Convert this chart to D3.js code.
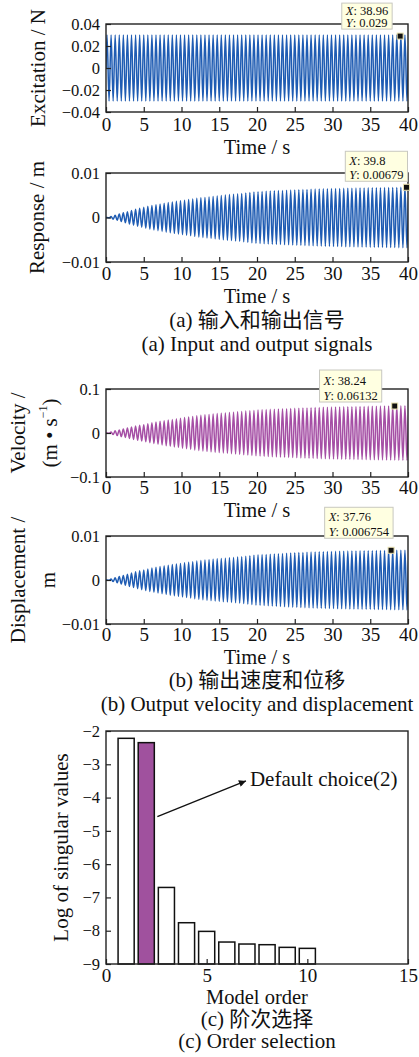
<!DOCTYPE html>
<html>
<head>
<meta charset="utf-8">
<script src="https://cdn.jsdelivr.net/npm/d3@7"></script>
<style>
body { margin: 0; background: #fff; }
text { font-family: "Liberation Serif", "Times New Roman", "Noto Sans CJK SC", serif; fill: #111; }
</style>
</head>
<body>
<script>
// values
// the time signals are steady sine waves: kept as their envelope (amplitude vs time) plus the carrier rate
var envTime = [0, 0.5, 1, 2, 3, 4, 5, 6, 8, 10, 12, 14, 16, 18, 20, 22, 25, 28, 30, 33, 36, 40];
var excitationEnv = [0.03, 0.03, 0.03, 0.03, 0.03, 0.03, 0.03, 0.03, 0.03, 0.03, 0.03, 0.03, 0.03, 0.03, 0.03, 0.03, 0.03, 0.03, 0.03, 0.03, 0.03, 0.03];
var responseEnv = [0, 0.0001, 0.0004, 0.0009, 0.0014, 0.0019, 0.0023, 0.0027, 0.0033, 0.0038, 0.0043, 0.0047, 0.0051, 0.0054, 0.0058, 0.006, 0.0062, 0.0064, 0.0065, 0.0066, 0.0067, 0.0068];
var velocityEnv = [0, 0.001, 0.004, 0.008, 0.012, 0.016, 0.019, 0.023, 0.029, 0.034, 0.039, 0.043, 0.046, 0.049, 0.052, 0.054, 0.056, 0.058, 0.059, 0.06, 0.061, 0.062];
var displacementEnv = [0, 0.0001, 0.0004, 0.0009, 0.0014, 0.0019, 0.0023, 0.0027, 0.0033, 0.0038, 0.0043, 0.0047, 0.005, 0.0053, 0.0057, 0.0059, 0.0062, 0.0064, 0.0065, 0.0066, 0.0067, 0.0068];
var cyclesPerSecond = 1.85;

var timeTicks = [0, 5, 10, 15, 20, 25, 30, 35, 40];
var tipX = [38.96, 39.8, 38.24, 37.76];
var tipY = [0.029, 0.00679, 0.06132, 0.006754];
var tipXText = ["38.96", "39.8", "38.24", "37.76"];
var tipYText = ["0.029", "0.00679", "0.06132", "0.006754"];

var orders = [1, 2, 3, 4, 5, 6, 7, 8, 9, 10];
var logSingular = [-2.22, -2.35, -6.70, -7.76, -8.02, -8.34, -8.40, -8.42, -8.50, -8.53];
var defaultOrder = 2;
var orderTicks = [0, 5, 10, 15];
var logTicks = [-9, -8, -7, -6, -5, -4, -3, -2];

var blue = "#1f5cb3";
var purple = "#a54fa5";
var barPurple = "#a0519e";

var W = 419, H = 1057;
var left = 106, right = 408;
var serif = "Liberation Serif, Times New Roman, serif";

var svg = d3.select("body").append("svg").attr("width", W).attr("height", H);

var fmt = function (d) { return d === 0 ? "0" : d3.format("")(d); };

var panels = [
	{ top: 24, bottom: 112, domain: [-0.04, 0.04], ticks: [-0.04, -0.02, 0, 0.02, 0.04], env: excitationEnv, color: blue,
		label: [["Excitation / N", 38]], tick: 131, title: 153.5, tipDx: -8, tipDy: -7, tipH: 26 },
	{ top: 173, bottom: 262, domain: [-0.01, 0.01], ticks: [-0.01, 0, 0.01], env: responseEnv, color: blue,
		label: [["Response / m", 37]], tick: 280, title: 302.5, tipDx: 1, tipDy: -6, tipH: 30 },
	{ top: 389, bottom: 477, domain: [-0.1, 0.1], ticks: [-0.1, 0, 0.1], env: velocityEnv, color: purple,
		label: [["Velocity /", 18], ["(m • s", 50]], tick: 494, title: 516.5, tipDx: -13, tipDy: -4, tipH: 32 },
	{ top: 536, bottom: 624, domain: [-0.01, 0.01], ticks: [-0.01, 0, 0.01], env: displacementEnv, color: blue,
		label: [["Displacement /", 18], ["m", 48]], tick: 641, title: 663.5, tipDx: 2, tipDy: -12, tipH: 31 }
];

var captions = [
	["(a) 输入和输出信号", 327], ["(a) Input and output signals", 351],
	["(b) 输出速度和位移", 687], ["(b) Output velocity and displacement", 711],
	["(c) 阶次选择", 1026], ["(c) Order selection", 1048]
];

var x = d3.scaleLinear().domain([0, 40]).range([left, right]);

function wave(env) {
	var amp = d3.scaleLinear().domain(envTime).range(env).clamp(true);
	var half = 0.5 / cyclesPerSecond;
	var pts = [[0, 0]];
	var k = 0;
	for (var t = half / 2; t < 41; t += half, k++) {
		pts.push([t, (k % 2 ? -1 : 1) * amp(t)]);
	}
	return pts;
}

function styleAxes(g) {
	g.selectAll(".domain").remove();
	g.selectAll(".tick line").attr("stroke", "#222").attr("stroke-width", 1.2);
	g.selectAll(".tick text").attr("fill", "#111").style("font-family", serif);
}

panels.forEach(function (p, i) {
	var y = d3.scaleLinear().domain(p.domain).range([p.bottom, p.top]);
	var g = svg.append("g");

	g.append("clipPath").attr("id", "clip" + i)
		.append("rect").attr("x", left).attr("y", p.top).attr("width", right - left).attr("height", p.bottom - p.top);

	g.append("path")
		.datum(wave(p.env))
		.attr("clip-path", "url(#clip" + i + ")")
		.attr("fill", "none")
		.attr("stroke", p.color)
		.attr("stroke-width", 1.5)
		.attr("d", d3.line().x(function (d) { return x(d[0]); }).y(function (d) { return y(d[1]); }).curve(d3.curveMonotoneX));

	// axes, ticks pointing inward
	var ax = g.append("g").attr("transform", "translate(0," + p.bottom + ")").attr("font-family", serif)
		.call(d3.axisBottom(x).tickValues(timeTicks).tickSizeInner(-5).tickSizeOuter(0).tickPadding(0));
	ax.selectAll("text").attr("y", p.tick - p.bottom).attr("dy", null).style("font-size", "19px");
	var ay = g.append("g").attr("transform", "translate(" + left + ",0)").attr("font-family", serif)
		.call(d3.axisLeft(y).tickValues(p.ticks).tickFormat(fmt).tickSizeInner(-5).tickSizeOuter(0).tickPadding(6));
	ay.selectAll("text").style("font-size", "16.5px");
	styleAxes(g);

	g.append("rect").attr("x", left).attr("y", p.top).attr("width", right - left).attr("height", p.bottom - p.top)
		.attr("fill", "none").attr("stroke", "#222").attr("stroke-width", 1.4);

	g.append("text").attr("x", (left + right) / 2).attr("y", p.title).attr("text-anchor", "middle")
		.style("font-size", "20.5px").text("Time / s");

	var cy = (p.top + p.bottom) / 2;
	p.label.forEach(function (l, j) {
		var t = g.append("text")
			.attr("transform", "translate(" + l[1] + "," + cy + ") rotate(-90)")
			.attr("text-anchor", "middle").attr("dominant-baseline", "central")
			.style("font-size", "21px").text(l[0]);
		if (i === 2 && j === 1) {
			t.append("tspan").attr("baseline-shift", "super").style("font-size", "12px").text("−1");
			t.append("tspan").text(")");
		}
	});

	// data tip: box, two text lines, marker
	var mx = x(tipX[i]), my = y(tipY[i]);
	var tip = g.append("g");
	var box = tip.append("rect").attr("fill", "#ffffe1").attr("stroke", "#c8c8c0").attr("stroke-width", 1);
	var t1 = tip.append("text").style("font-size", "12.5px");
	t1.append("tspan").style("font-style", "italic").text("X");
	t1.append("tspan").text(": " + tipXText[i]);
	var t2 = tip.append("text").style("font-size", "12.5px");
	t2.append("tspan").style("font-style", "italic").text("Y");
	t2.append("tspan").text(": " + tipYText[i]);
	var tw = Math.max(t1.node().getComputedTextLength(), t2.node().getComputedTextLength());
	var bx = mx + p.tipDx - tw - 8, bBot = my + p.tipDy, bTopY = bBot - p.tipH;
	box.attr("x", bx).attr("y", bTopY).attr("width", tw + 8).attr("height", p.tipH);
	var lineGap = p.tipH / 2;
	t1.attr("x", bx + 4).attr("y", bTopY + lineGap - 1.5);
	t2.attr("x", bx + 4).attr("y", bTopY + 2 * lineGap - 2.5);
	g.append("rect").attr("x", mx - 3).attr("y", my - 3).attr("width", 6).attr("height", 6)
		.attr("fill", "#111").attr("stroke", "#e8e0b0").attr("stroke-width", 1);
});

// order selection bar chart
var bTop = 731, bBottom = 964;
var xb = d3.scaleLinear().domain([0, 15]).range([left, right]);
var yb = d3.scaleLinear().domain([-9, -2]).range([bBottom, bTop]);
var gb = svg.append("g");
var barW = xb(0.8) - xb(0);

gb.selectAll("rect.bar").data(orders).join("rect").attr("class", "bar")
	.attr("x", function (d) { return xb(d) - barW / 2; })
	.attr("y", function (d, i) { return yb(logSingular[i]); })
	.attr("width", barW)
	.attr("height", function (d, i) { return yb(-9) - yb(logSingular[i]); })
	.attr("fill", function (d) { return d === defaultOrder ? barPurple : "#fff"; })
	.attr("stroke", "#111").attr("stroke-width", 1.5);

var axb = gb.append("g").attr("transform", "translate(0," + bBottom + ")").attr("font-family", serif)
	.call(d3.axisBottom(xb).tickValues(orderTicks).tickSizeInner(-5).tickSizeOuter(0).tickPadding(0));
axb.selectAll("text").attr("y", 982 - bBottom).attr("dy", null).style("font-size", "19px");
var ayb = gb.append("g").attr("transform", "translate(" + left + ",0)").attr("font-family", serif)
	.call(d3.axisLeft(yb).tickValues(logTicks).tickFormat(fmt).tickSizeInner(-5).tickSizeOuter(0).tickPadding(6));
ayb.selectAll("text").style("font-size", "16.5px");
styleAxes(gb);

gb.append("rect").attr("x", left).attr("y", bTop).attr("width", right - left).attr("height", bBottom - bTop)
	.attr("fill", "none").attr("stroke", "#222").attr("stroke-width", 1.4);

svg.append("defs").append("marker").attr("id", "head")
	.attr("viewBox", "0 0 10 10").attr("refX", 10).attr("refY", 5)
	.attr("markerWidth", 12).attr("markerHeight", 7).attr("markerUnits", "userSpaceOnUse").attr("orient", "auto")
	.append("path").attr("d", "M0,0L10,5L0,10z").attr("fill", "#111");

var arrowFrom = [2.55, -4.57], arrowTo = [6.95, -3.5];
gb.append("line")
	.attr("x1", xb(arrowFrom[0])).attr("y1", yb(arrowFrom[1]))
	.attr("x2", xb(arrowTo[0])).attr("y2", yb(arrowTo[1]))
	.attr("stroke", "#111").attr("stroke-width", 1.3).attr("marker-end", "url(#head)");
gb.append("text").attr("x", xb(7.15)).attr("y", yb(-3.66)).style("font-size", "21px").text("Default choice(2)");

gb.append("text").attr("x", (left + right) / 2).attr("y", 1004).attr("text-anchor", "middle")
	.style("font-size", "20.5px").text("Model order");
gb.append("text")
	.attr("transform", "translate(61," + (bTop + bBottom) / 2 + ") rotate(-90)")
	.attr("text-anchor", "middle").attr("dominant-baseline", "central")
	.style("font-size", "21px").text("Log of singular values");

svg.selectAll("text.caption").data(captions).join("text").attr("class", "caption")
	.attr("x", 257).attr("y", function (d) { return d[1]; }).attr("text-anchor", "middle")
	.style("font-size", "21px").text(function (d) { return d[0]; });
</script>
</body>
</html>
